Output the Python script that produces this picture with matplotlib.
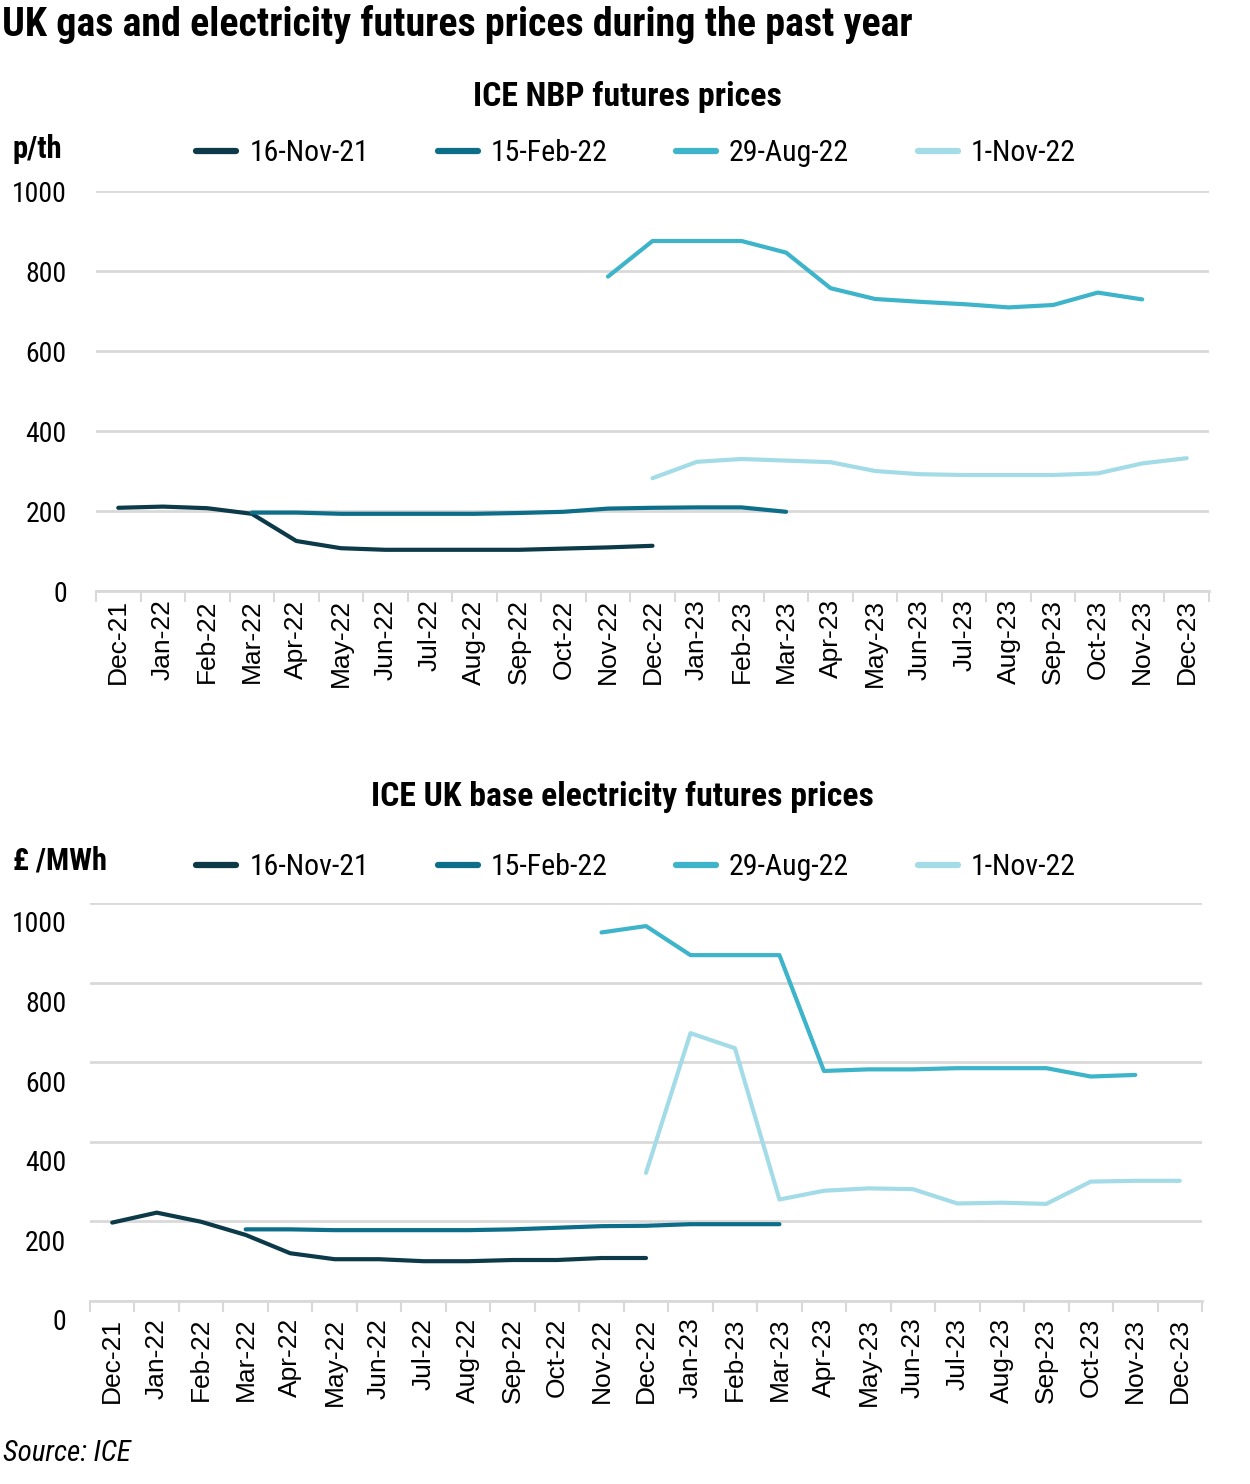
import matplotlib
matplotlib.use("Agg")
import matplotlib.pyplot as plt
import numpy as np
from matplotlib.transforms import ScaledTranslation
from matplotlib import font_manager

months = ["Dec-21", "Jan-22", "Feb-22", "Mar-22", "Apr-22", "May-22", "Jun-22", "Jul-22",
          "Aug-22", "Sep-22", "Oct-22", "Nov-22", "Dec-22", "Jan-23", "Feb-23", "Mar-23",
          "Apr-23", "May-23", "Jun-23", "Jul-23", "Aug-23", "Sep-23", "Oct-23", "Nov-23", "Dec-23"]
series_names = ["16-Nov-21", "15-Feb-22", "29-Aug-22", "1-Nov-22"]
N = np.nan

gas_16nov21 = [208, 211, 207, 193, 125, 107, 103, 103, 103, 103, 106, 109, 113] + [N] * 12
gas_15feb22 = [N, N, N, 196, 196, 193, 193, 193, 193, 195, 198, 206, 208, 209, 209, 198] + [N] * 9
gas_29aug22 = [N] * 11 + [786, 875, 875, 875, 846, 757, 730, 723, 717, 709, 715, 746, 729, N]
gas_1nov22 = [N] * 12 + [282, 323, 330, 326, 322, 300, 292, 290, 290, 290, 294, 319, 332]

elec_16nov21 = [197, 222, 199, 166, 120, 105, 105, 100, 100, 103, 103, 108, 108] + [N] * 12
elec_15feb22 = [N, N, N, 180, 180, 178, 178, 178, 178, 180, 184, 188, 189, 193, 193, 193] + [N] * 9
elec_29aug22 = [N] * 11 + [926, 942, 869, 869, 869, 578, 582, 582, 585, 585, 585, 564, 568, N]
elec_1nov22 = [N] * 12 + [322, 673, 635, 255, 277, 283, 281, 245, 247, 244, 300, 302, 302]

colors = ["#0C3A48", "#0D6E89", "#3DB4C9", "#A3DCE6"]

avail = {f.name for f in font_manager.fontManager.ttflist}
prefs = ["Roboto Condensed", "Liberation Sans Narrow", "DejaVu Sans Condensed",
         "Open Sans Condensed", "Roboto", "Lato"]
narrow = next((p for p in prefs if p in avail), "DejaVu Sans")
plt.rcParams['font.family'] = [narrow, 'DejaVu Sans']

W, H = 1250, 1484
fig = plt.figure(figsize=(W / 100, H / 100), dpi=100)


def axes_px(left, right, y0, y1000):
    return fig.add_axes([left / W, 1 - y0 / H, (right - left) / W, (y0 - y1000) / H])


def style(ax, data, pad_x, pad_y, ylab_shift):
    x = np.arange(len(months))
    for vals, c in zip(data, colors):
        ax.plot(x, vals, color=c, lw=3.0, solid_capstyle='round', solid_joinstyle='round')
    ax.set_xlim(-0.5, len(months) - 0.5)
    ax.set_ylim(0, 1000)
    ax.set_yticks([0, 200, 400, 600, 800, 1000])
    ax.yaxis.grid(True, color="#D9D9D9", lw=2)
    ax.set_axisbelow(True)
    for s in ["top", "right", "left"]:
        ax.spines[s].set_visible(False)
    ax.spines["bottom"].set_color("#D9D9D9")
    ax.spines["bottom"].set_linewidth(2)
    ax.set_xticks(x)
    ax.set_xticklabels(months, rotation=90, family=["Liberation Sans", "DejaVu Sans"], fontsize=19)
    ax.set_xticks(np.arange(-0.5, len(months)), minor=True)
    ax.tick_params(axis='x', which='major', length=0, pad=pad_x)
    ax.tick_params(axis='x', which='minor', length=8, width=1.5, color="#D9D9D9")
    ax.tick_params(axis='y', length=0, pad=pad_y, labelsize=20)
    if ylab_shift:
        for lbl in ax.get_yticklabels():
            lbl.set_transform(lbl.get_transform() + ScaledTranslation(0, -ylab_shift / 100, fig.dpi_scale_trans))


ax1 = axes_px(96, 1209, 591, 191)
style(ax1, [gas_16nov21, gas_15feb22, gas_29aug22, gas_1nov22], 6, 21, 0)
ax2 = axes_px(90, 1202, 1301, 903)
style(ax2, [elec_16nov21, elec_15feb22, elec_29aug22, elec_1nov22], 12, 17, 19)

for ax, yc in [(ax1, 153), (ax2, 867)]:
    handles = [plt.Line2D([], [], color=c, lw=4.5, solid_capstyle='round') for c in colors]
    fig.legend(handles, series_names, loc='center', bbox_to_anchor=(636 / W, 1 - yc / H),
               ncol=4, frameon=False, fontsize=21.5, handlelength=1.34, handletextpad=0.43,
               columnspacing=2.3)

fig.text(2 / W, 1 - 25 / H, "UK gas and electricity futures prices during the past year",
         fontsize=28.8, fontweight='bold', ha='left', va='center')
fig.text(627 / W, 1 - 97 / H, "ICE NBP futures prices", fontsize=24.4, fontweight='bold',
         ha='center', va='center')
fig.text(622 / W, 1 - 797 / H, "ICE UK base electricity futures prices", fontsize=24.3,
         fontweight='bold', ha='center', va='center')
fig.text(13 / W, 1 - 149 / H, "p/th", fontsize=22, fontweight='bold', ha='left', va='center')
fig.text(13 / W, 1 - 861 / H, "£ /MWh", fontsize=22, fontweight='bold', ha='left', va='center')
fig.text(3 / W, 1 - 1453 / H, "Source: ICE", fontsize=21, style='italic', ha='left', va='center')

fig.savefig("out.png", dpi=100)
